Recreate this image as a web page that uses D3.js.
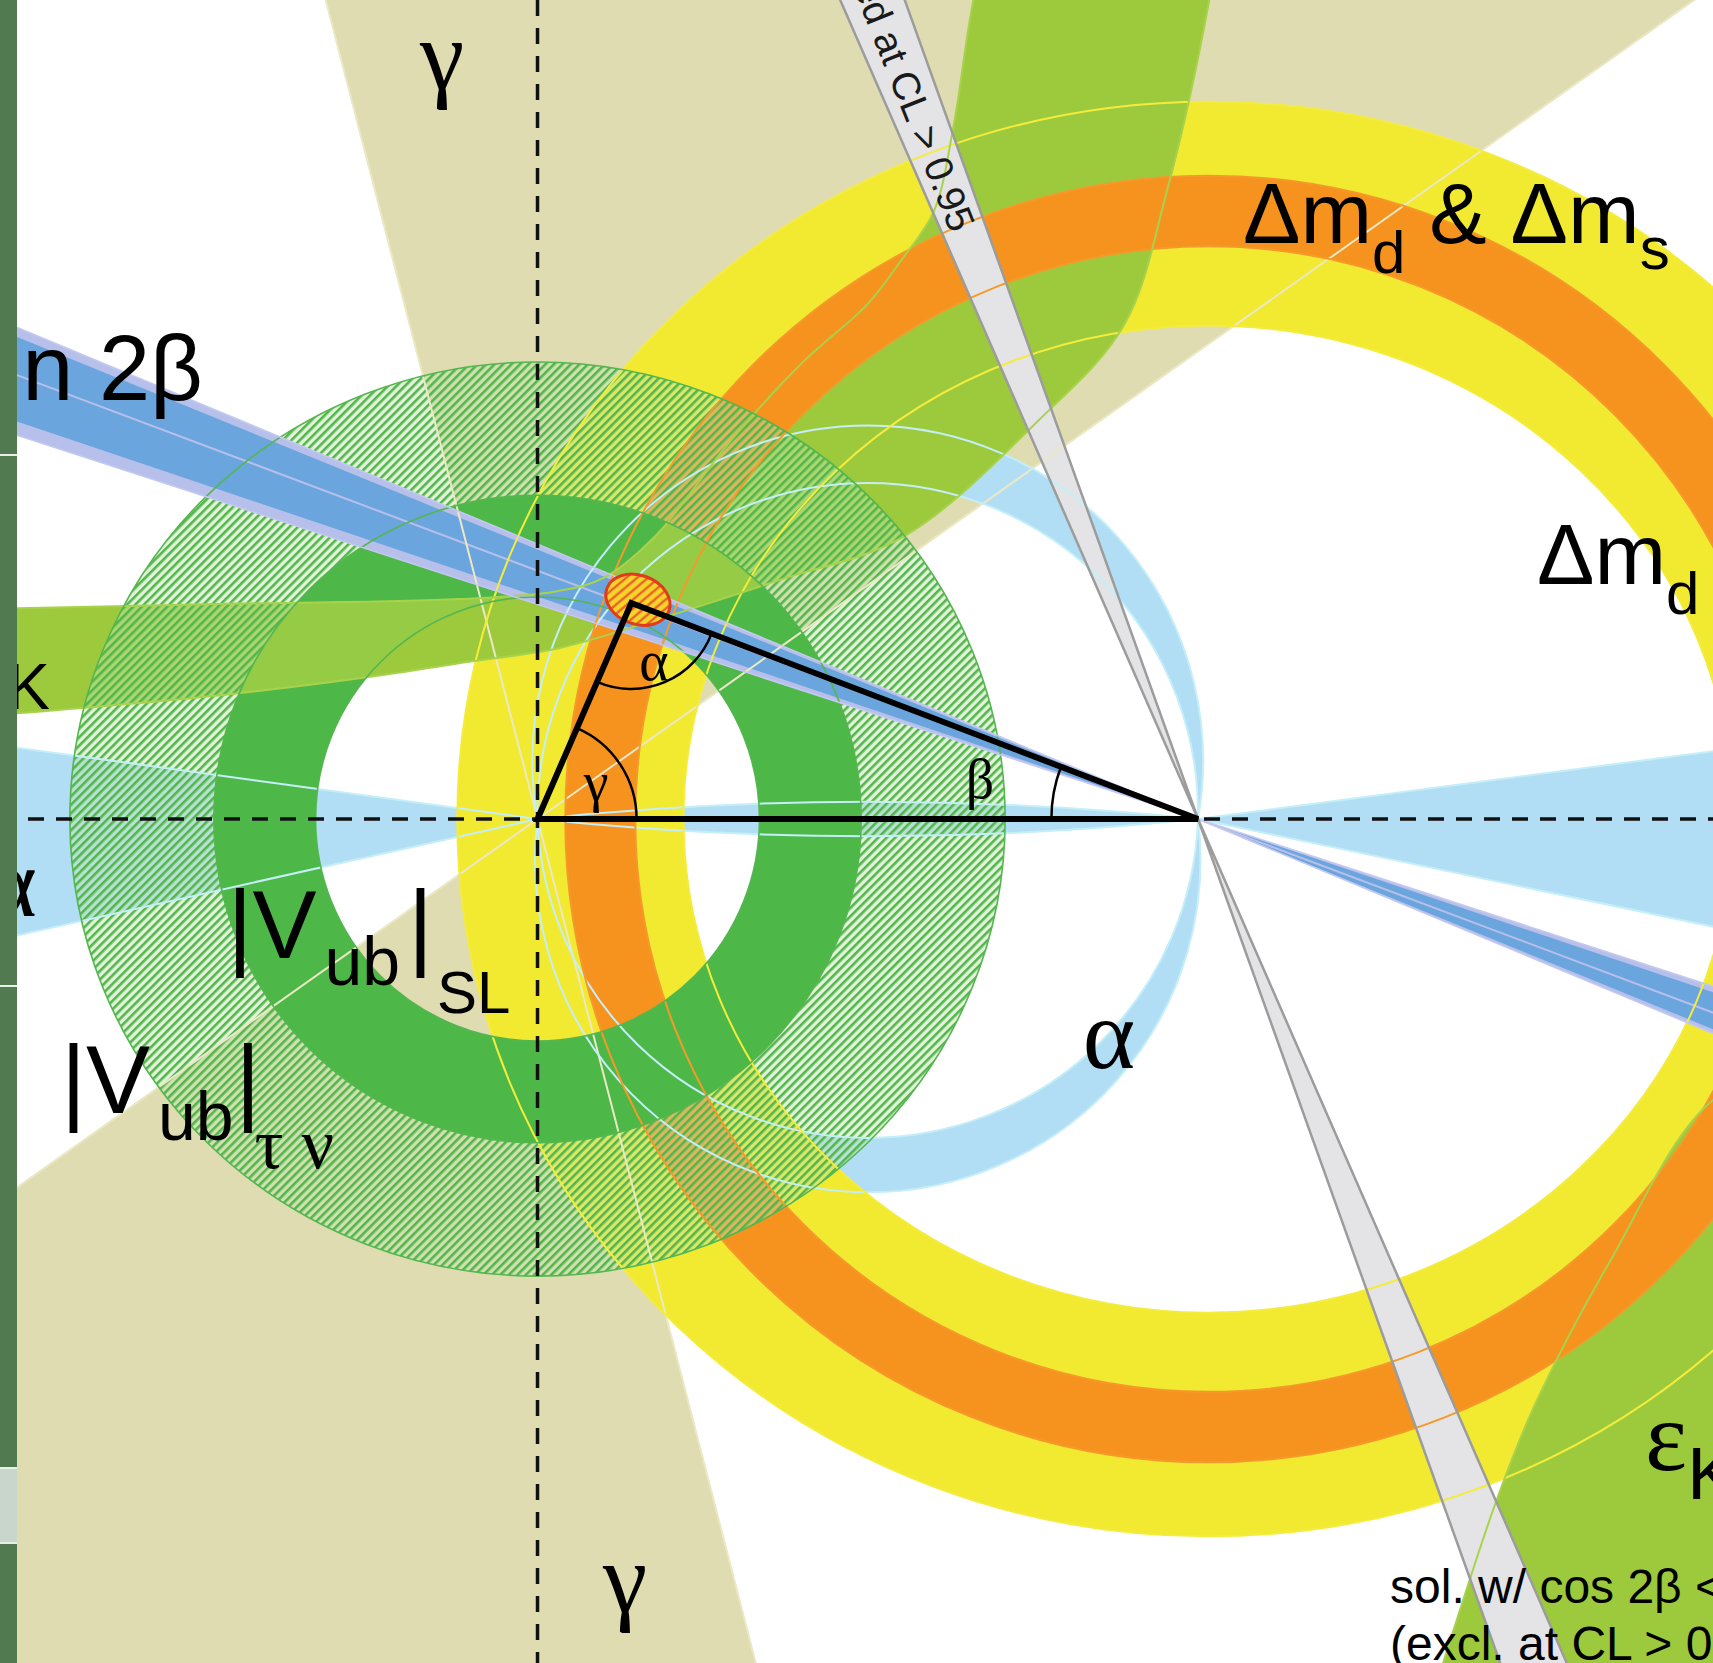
<!DOCTYPE html>
<html>
<head>
<meta charset="utf-8">
<script src="https://cdn.jsdelivr.net/npm/d3@7"></script>
<style>
  body { margin: 0; background: #fff; }
  svg { display: block; }
</style>
</head>
<body>
<svg id="chart"></svg>
<script>
const W = 1713, H = 1663;

// visible window of the (rho, eta) plane
const rhoRange = [-0.8138, 1.7797];
const etaRange = [1.2400, -1.2778];

// unitarity triangle apex and fit region
const apex = [0.142, 0.327];
const fitEllipse = [0.152, 0.332, 0.050, 0.037, 20]; // rho, eta, rx, ry, tilt

// gamma: lines through (0,0), degrees
const gammaEdges = [35.3, 104.5];
// sin 2beta: lines through (1,0), angle beta in degrees
const sin2bOuter = [18.0, 22.6];
const sin2bInner = [18.6, 22.2];
const sin2bMid = 20.6;
// cos 2beta < 0 solution strip through (1,0), degrees
const cos2bStrip = [109.7, 113.6];

// alpha: crescents between circles through (0,0) and (1,0)
const alphaUpper = [80, 89];
const alphaLower = [83, 92];
const alphaLensSagitta = 0.026;
const alphaWedgeLeft = [172.2, 192.6];   // at (0,0)
const alphaWedgeRight = [-11.8, 7.5];    // at (1,0)

// Delta m rings (ellipses centred near (1,0)): [rx, ry]
const ringCentre = [1.016, 0];
const dmdRing = [[0.795, 0.747], [1.1375, 1.086]];
const dmdsRing = [[0.868, 0.867], [0.974, 0.974]];

// |Vub| rings around (0,0): [rx, ry]
const vubSL = [[0.336, 0.336], [0.49, 0.49]];
const vubTau = [[0.42, 0.42], [0.708, 0.692]];

// epsilon_K band edges
const epsTop = [[0.70, 1.40], [0.66, 1.24], [0.63, 1.05], [0.60, 0.92], [0.55, 0.845],
  [0.50, 0.78], [0.40, 0.69], [0.29, 0.57], [0.18, 0.43], [0.10, 0.365], [0.03, 0.345],
  [-0.119, 0.333], [-0.483, 0.3255], [-0.788, 0.319], [-0.95, 0.315]];
const epsBottom = [[-0.95, 0.148], [-0.788, 0.160], [-0.466, 0.189], [-0.234, 0.218],
  [-0.119, 0.236], [0.034, 0.259], [0.155, 0.294], [0.367, 0.362], [0.555, 0.428],
  [0.758, 0.603], [0.888, 0.748], [0.953, 0.951], [1.017, 1.240], [1.04, 1.40]];
const epsLowerEdge = [[1.315, -1.45], [1.353, -1.334], [1.451, -1.034], [1.509, -0.889],
  [1.624, -0.669], [1.780, -0.425], [1.95, -0.36]];
const epsLowerClose = [[2.2, -0.36], [2.2, -1.5], [1.315, -1.5]];

const colors = {
  beige: "#dfdcb2", lightBlue: "#b1def4", yellow: "#f2e931", orange: "#f6921e",
  epsK: "#9dca3c", sl: "#4db848", blue: "#6aa5dd", lavender: "#b7bfeb",
  grey: "#e4e4e6", greyEdge: "#9c9c9c"
};

const x = d3.scaleLinear().domain(rhoRange).range([0, W]);
const y = d3.scaleLinear().domain(etaRange).range([0, H]);
const k = x(1) - x(0);
const d2r = Math.PI / 180;
const O = [x(0), y(0)], B = [x(1), y(0)];

const svg = d3.select("#chart")
  .attr("width", W).attr("height", H)
  .attr("viewBox", `0 0 ${W} ${H}`);
const defs = svg.append("defs");

// hatch for |Vub| tau nu
const hatch = defs.append("pattern").attr("id", "hatch")
  .attr("width", 6).attr("height", 6).attr("patternUnits", "userSpaceOnUse")
  .attr("patternTransform", "rotate(45)");
hatch.append("rect").attr("width", 6).attr("height", 6).attr("fill", "rgba(190,228,170,0.45)");
hatch.append("line").attr("x1", 1.3).attr("y1", 0).attr("x2", 1.3).attr("y2", 6)
  .attr("stroke", "#52b64d").attr("stroke-width", 2.6);

const fitHatch = defs.append("pattern").attr("id", "fitHatch")
  .attr("width", 7).attr("height", 7).attr("patternUnits", "userSpaceOnUse")
  .attr("patternTransform", "rotate(30)");
fitHatch.append("rect").attr("width", 7).attr("height", 7).attr("fill", "#f6d52a");
fitHatch.append("line").attr("x1", 2).attr("y1", 0).attr("x2", 2).attr("y2", 7)
  .attr("stroke", "#e8622a").attr("stroke-width", 2.4);

function ellipsePath(c, r) {
  const px = x(c[0]), py = y(c[1]), a = r[0] * k, b = r[1] * k;
  return `M${px - a},${py}A${a},${b} 0 1,0 ${px + a},${py}A${a},${b} 0 1,0 ${px - a},${py}Z`;
}
function ringPath(c, ring) {
  return ellipsePath(c, ring[1]) + ellipsePath(c, ring[0]);
}
function ray(p, deg, L = 6) {
  return [p[0] + L * Math.cos(deg * d2r), p[1] + L * Math.sin(deg * d2r)];
}
function wedge(p, a0, a1) {
  const pts = [p, ray(p, a0), ray(p, (a0 + a1) / 2), ray(p, a1)];
  return "M" + pts.map(q => [x(q[0]), y(q[1])].join(",")).join("L") + "Z";
}
function rayLine(p, deg) {
  const q = ray(p, deg);
  return `M${x(p[0])},${y(p[1])}L${x(q[0])},${y(q[1])}`;
}
function crescent(aOut, aIn, upper) {
  const R1 = k / (2 * Math.sin(aOut * d2r)), R2 = k / (2 * Math.sin(aIn * d2r));
  const l1 = aOut < 90 ? 1 : 0, l2 = aIn < 90 ? 1 : 0;
  if (upper) return `M${B}A${R1},${R1} 0 ${l1},0 ${O}A${R2},${R2} 0 ${l2},1 ${B}Z`;
  return `M${B}A${R1},${R1} 0 ${l1},1 ${O}A${R2},${R2} 0 ${l2},0 ${B}Z`;
}
function lens(s) {
  const R = (0.25 + s * s) / (2 * s) * k;
  return `M${B}A${R},${R} 0 0,0 ${O}A${R},${R} 0 0,0 ${B}Z`;
}
const curve = d3.line().x(d => x(d[0])).y(d => y(d[1])).curve(d3.curveCatmullRom.alpha(0.5));
const epsUpperPath = curve(epsTop.concat(epsBottom)) + "Z";
const epsLowerPath = curve(epsLowerEdge) + "L" + epsLowerClose.map(q => [x(q[0]), y(q[1])].join(",")).join("L") + "Z";

svg.append("rect").attr("width", W).attr("height", H).attr("fill", "#fff");

// gamma
svg.append("path").attr("d", wedge([0, 0], gammaEdges[0], gammaEdges[1]) +
  wedge([0, 0], gammaEdges[0] + 180, gammaEdges[1] + 180)).attr("fill", colors.beige);

// alpha
const alphaG = svg.append("g").attr("fill", colors.lightBlue);
alphaG.append("path").attr("d", wedge([0, 0], alphaWedgeLeft[0], alphaWedgeLeft[1]));
alphaG.append("path").attr("d", wedge([1, 0], alphaWedgeRight[0], alphaWedgeRight[1]));
alphaG.append("path").attr("d", lens(alphaLensSagitta));
alphaG.append("path").attr("d", crescent(alphaUpper[0], alphaUpper[1], true));
alphaG.append("path").attr("d", crescent(alphaLower[0], alphaLower[1], false));

// Delta m_d
svg.append("path").attr("d", ringPath(ringCentre, dmdRing))
  .attr("fill", colors.yellow).attr("fill-rule", "evenodd");
// epsilon K
svg.append("path").attr("d", epsUpperPath).attr("fill", colors.epsK);
svg.append("path").attr("d", epsLowerPath).attr("fill", colors.epsK);
// Delta m_d & Delta m_s
svg.append("path").attr("d", ringPath(ringCentre, dmdsRing))
  .attr("fill", colors.orange).attr("fill-rule", "evenodd");

// |Vub| tau nu (hatched) and SL
svg.append("path").attr("d", ringPath([0, 0], vubTau))
  .attr("fill", "url(#hatch)").attr("fill-rule", "evenodd");
svg.append("path").attr("d", ringPath([0, 0], vubSL))
  .attr("fill", colors.sl).attr("fill-rule", "evenodd");
defs.append("clipPath").attr("id", "slClip").append("path")
  .attr("d", ringPath([0, 0], vubSL)).attr("clip-rule", "evenodd");
svg.append("path").attr("d", epsUpperPath).attr("fill", "#a3cf45")
  .attr("opacity", 0.85).attr("clip-path", "url(#slClip)");

// sin 2 beta
const sbWedge = r => wedge([1, 0], 180 - r[1], 180 - r[0]) + wedge([1, 0], -r[1], -r[0]);
svg.append("path").attr("d", sbWedge(sin2bOuter)).attr("fill", colors.lavender);
svg.append("path").attr("d", sbWedge(sin2bInner)).attr("fill", colors.blue);
svg.append("path").attr("d", rayLine([1, 0], 180 - sin2bMid) + rayLine([1, 0], -sin2bMid))
  .attr("stroke", colors.lavender).attr("stroke-width", 2).attr("fill", "none");

// cos 2 beta < 0 strip
const stripD = wedge([1, 0], cos2bStrip[0], cos2bStrip[1]) +
  wedge([1, 0], cos2bStrip[0] + 180, cos2bStrip[1] + 180);
svg.append("path").attr("d", stripD).attr("fill", colors.grey);

// contour lines
const lines = svg.append("g").attr("fill", "none").attr("stroke-width", 2);
lines.append("path").attr("stroke", "#ebe8c6").attr("d",
  [gammaEdges[0], gammaEdges[1], gammaEdges[0] + 180, gammaEdges[1] + 180].map(a => rayLine([0, 0], a)).join(""));
lines.append("path").attr("stroke", "#c4eef8").attr("d",
  crescent(alphaUpper[0], alphaUpper[1], true) + crescent(alphaLower[0], alphaLower[1], false) +
  lens(alphaLensSagitta) + alphaWedgeLeft.map(a => rayLine([0, 0], a)).join("") +
  alphaWedgeRight.map(a => rayLine([1, 0], a)).join(""));
lines.append("path").attr("stroke", "#f4ec3c").attr("d", ringPath(ringCentre, dmdRing));
lines.append("path").attr("stroke", "#f59a2a").attr("d", ringPath(ringCentre, dmdsRing));
lines.append("path").attr("stroke", "#a9d24c").attr("d", curve(epsTop) + curve(epsBottom) + curve(epsLowerEdge));
lines.append("path").attr("stroke", "#55b650").attr("stroke-width", 1.6)
  .attr("d", ellipsePath([0, 0], vubTau[1]) + ringPath([0, 0], vubSL));
lines.append("path").attr("stroke", "#c3c9f0").attr("stroke-width", 1.5).attr("d",
  [180 - sin2bOuter[0], 180 - sin2bOuter[1], -sin2bOuter[0], -sin2bOuter[1]].map(a => rayLine([1, 0], a)).join(""));
lines.append("path").attr("stroke", colors.greyEdge).attr("stroke-width", 2.5).attr("d",
  [cos2bStrip[0], cos2bStrip[1], cos2bStrip[0] + 180, cos2bStrip[1] + 180].map(a => rayLine([1, 0], a)).join(""));

// strip caption, running down the strip centre towards (1,0)
const stripMid = (cos2bStrip[0] + cos2bStrip[1]) / 2;
const capEnd = ray([1, 0], stripMid, 0.961);
svg.append("text")
  .attr("transform", `translate(${x(capEnd[0])},${y(capEnd[1])}) rotate(${180 - stripMid})`)
  .attr("text-anchor", "end").attr("dy", "0.36em")
  .attr("font-family", "Liberation Sans, Arial, sans-serif").attr("font-size", 39).attr("fill", "#1a1a1a")
  .text("excluded at CL > 0.95");

// axes
svg.append("path").attr("d", `M0,${y(0)}H${W}M${x(0)},0V${H}`)
  .attr("stroke", "#111").attr("stroke-width", 3.5).attr("stroke-dasharray", "16,12").attr("fill", "none");

// fit region
svg.append("ellipse")
  .attr("cx", x(fitEllipse[0])).attr("cy", y(fitEllipse[1]))
  .attr("rx", fitEllipse[2] * k).attr("ry", fitEllipse[3] * k)
  .attr("transform", `rotate(${fitEllipse[4]},${x(fitEllipse[0])},${y(fitEllipse[1])})`)
  .attr("fill", "url(#fitHatch)").attr("stroke", "#e23a1c").attr("stroke-width", 3);

// triangle
const A = [x(apex[0]), y(apex[1])];
svg.append("path").attr("d", `M${O}L${B}L${A}Z`)
  .attr("fill", "none").attr("stroke", "#000").attr("stroke-width", 6).attr("stroke-linejoin", "miter");
const angO = Math.atan2(apex[1], apex[0]);
const angBA = Math.atan2(apex[1], apex[0] - 1);
const arcs = d3.path();
const rg = 0.15 * k, ra = 0.13 * k, rb = 0.222 * k;
arcs.moveTo(O[0] + rg, O[1]); arcs.arc(O[0], O[1], rg, 0, -angO, true);
const aToO = Math.atan2(-apex[1], -apex[0]), aToB = Math.atan2(-apex[1], 1 - apex[0]);
arcs.moveTo(A[0] + ra * Math.cos(-aToO), A[1] + ra * Math.sin(-aToO));
arcs.arc(A[0], A[1], ra, -aToO, -aToB, true);
arcs.moveTo(B[0] - rb, B[1]); arcs.arc(B[0], B[1], rb, Math.PI, -angBA, false);
svg.append("path").attr("d", arcs.toString()).attr("fill", "none").attr("stroke", "#000").attr("stroke-width", 2.5);

// labels
const sans = "Liberation Sans, Arial, Helvetica, sans-serif";
const serif = "Liberation Serif, Times New Roman, serif";
function label(rho, eta, size, family, anchor) {
  return svg.append("text").attr("x", x(rho)).attr("y", y(eta))
    .attr("font-size", size).attr("font-family", family)
    .attr("text-anchor", anchor || "start").attr("fill", "#000");
}
label(-0.1446, 1.1053, 100, serif, "middle").text("γ");
label(0.1325, -1.2006, 100, serif, "middle").text("γ");
label(0.8652, -0.377, 100, serif, "middle").text("α");
label(-0.7578, -0.1469, 100, serif, "end").text("α");
label(-0.5065, 0.6344, 92, sans, "end").text("sin 2β");
const ekL = label(-0.7381, 0.1665, 100, serif, "end");
ekL.append("tspan").text("ε");
ekL.append("tspan").attr("font-family", sans).attr("font-size", 64).text("K");

const dm = label(1.0681, 0.8721, 86, sans);
dm.append("tspan").text("Δm");
dm.append("tspan").attr("font-size", 60).attr("dy", 30).text("d");
dm.append("tspan").attr("dy", -30).text(" & Δm");
dm.append("tspan").attr("font-size", 60).attr("dy", 26).text("s");
const dm2 = label(1.5132, 0.3558, 86, sans);
dm2.append("tspan").text("Δm");
dm2.append("tspan").attr("font-size", 60).attr("dy", 30).text("d");

function vub(rho, eta, sub, subFamily, subSize, barGap, subGap) {
  const t = label(rho, eta, 96, sans);
  t.append("tspan").text("|V");
  t.append("tspan").attr("font-size", 68).attr("dx", 8).attr("dy", 27).text("ub");
  t.append("tspan").attr("dx", barGap).attr("dy", -27).text("|");
  t.append("tspan").attr("font-size", subSize).attr("font-family", subFamily).attr("dx", subGap).attr("dy", 55).text(sub);
}
vub(-0.4694, -0.2104, "SL", sans, 60, 8, 4);
vub(-0.7215, -0.4451, "τ ν", serif, 72, 2, -6);

const ek = label(1.6768, -0.9856, 100, serif);
ek.append("tspan").text("ε");
ek.append("tspan").attr("font-family", sans).attr("font-size", 75).attr("dy", 29).text("K");

label(1.2907, -1.187, 48, sans).text("sol. w/ cos 2β < 0");
label(1.2907, -1.2733, 48, sans).text("(excl. at CL > 0.95)");

label(0.1764, 0.2362, 56, serif, "middle").attr("dy", "0.3em").text("α");
label(0.0886, 0.053, 56, serif, "middle").attr("dy", "0.3em").text("γ");
label(0.67, 0.0575, 56, serif, "middle").attr("dy", "0.3em").text("β");

// page margin strip on the left
const strip = svg.append("g");
strip.append("rect").attr("x", 0).attr("y", 0).attr("width", 17).attr("height", H).attr("fill", "#517a51");
strip.append("rect").attr("x", 0).attr("y", 1468).attr("width", 17).attr("height", 74).attr("fill", "#c9d6cb");
[454, 985, 1467, 1542].forEach(v => strip.append("rect").attr("x", 0).attr("y", v).attr("width", 17).attr("height", 2).attr("fill", "#e8eee8"));
</script>
</body>
</html>
